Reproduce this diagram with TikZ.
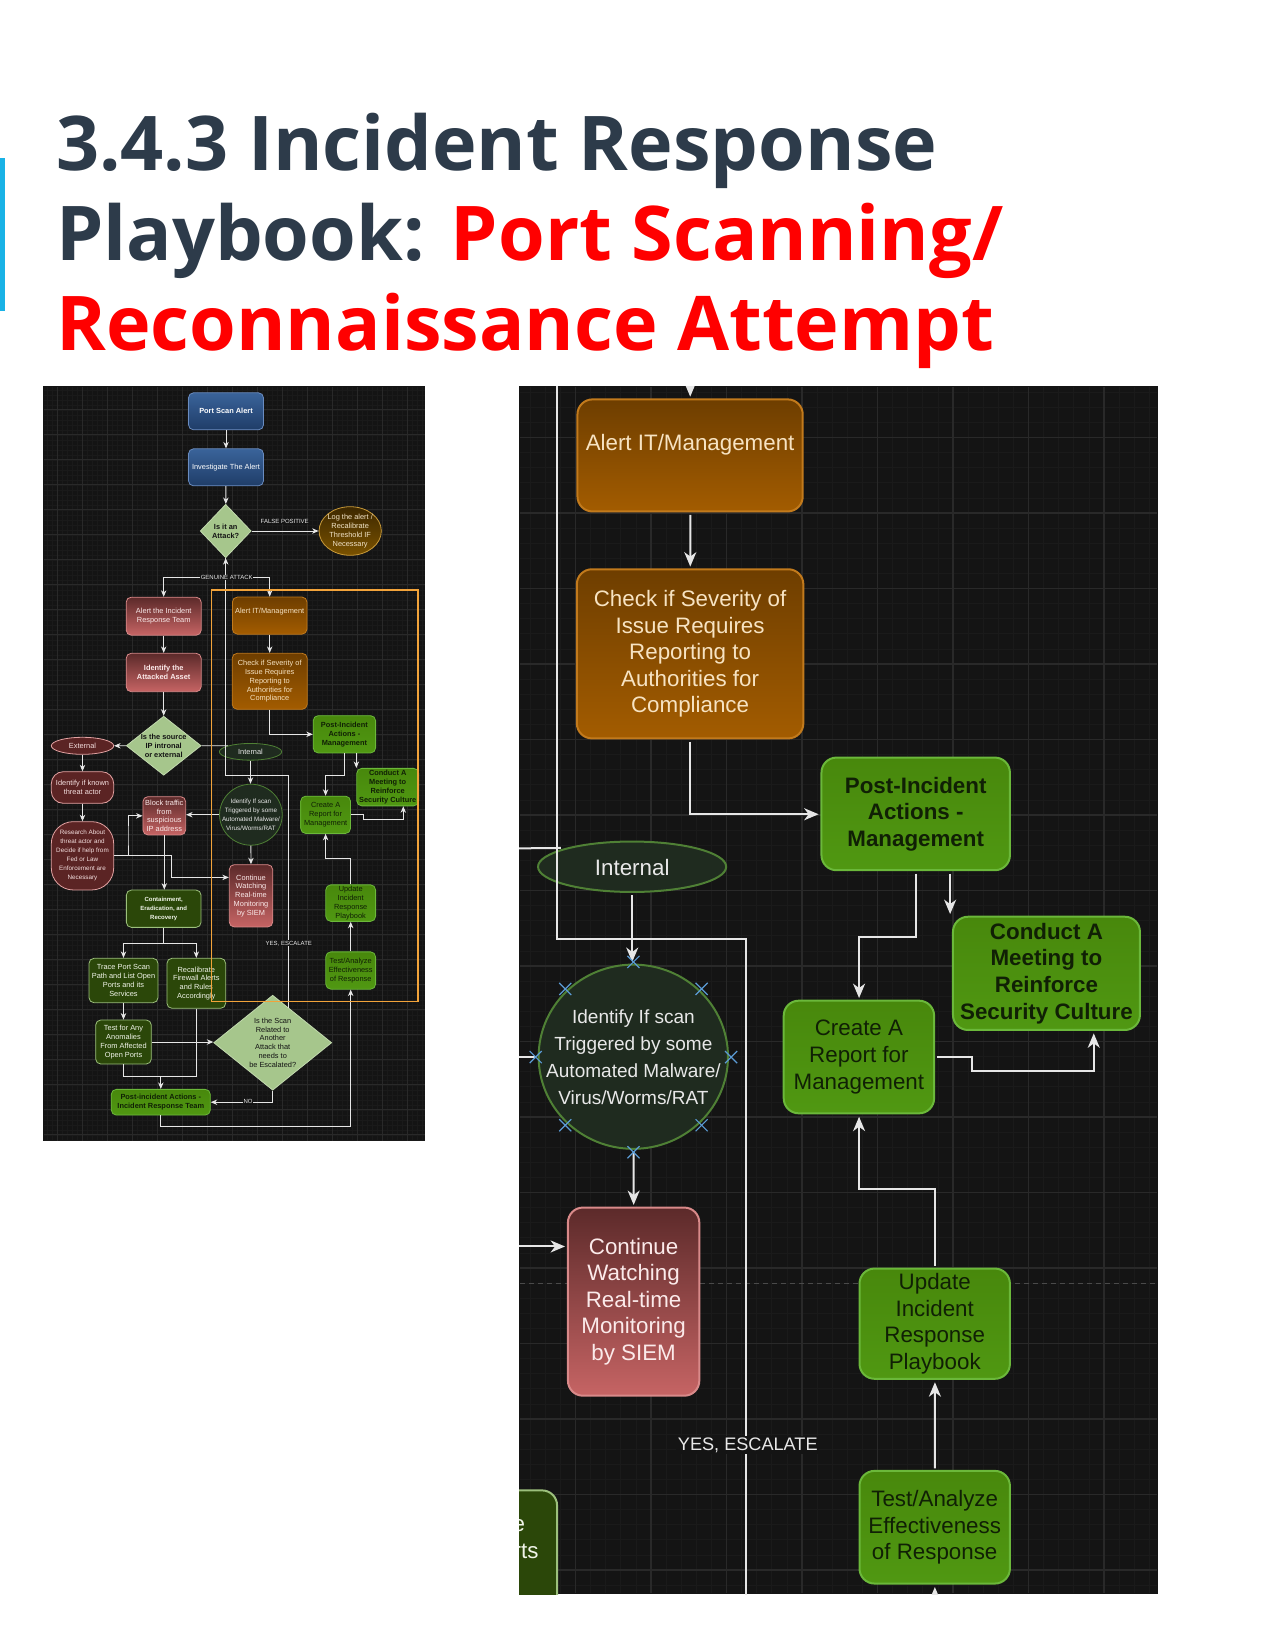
\documentclass[tikz,border=0pt]{standalone}
\usepackage{fontspec}
\setmainfont{Liberation Sans}
\newfontfamily\titlefont{Open Sans}
\usetikzlibrary{shapes.geometric,arrows.meta}

\newcommand\connw{0.9pt}
\newcommand\nodew{0.8pt}
\newcommand\boxrc{5pt}
\newcommand\pillrc{12pt}
\newcommand\eggrc{22pt}
\newcommand\gridw{0.6pt}
\newcommand\gridmw{0.4pt}
\newcommand\boxfont{\fontsize{7.4pt}{8.8pt}\selectfont}
\newcommand\smallboxfont{\fontsize{6.3pt}{9pt}\selectfont}
\newcommand\boldsmallfont{\fontsize{6pt}{9.2pt}\selectfont\bfseries}
% texts of boxes that lie outside the enlarged view
\newif\ifzoomview
\newcommand\leftonly[1]{\ifzoomview\else#1\fi}

\tikzset{
  conn/.style={draw=connc, line width=\connw},
  arr/.style={conn, -{Stealth[length=0pt 7.2, width=0pt 6, inset=0pt 2.2]}},
  wh/.style 2 args={minimum width=#1pt, minimum height=#2pt},
  box/.style={rectangle, rounded corners=\boxrc, line width=\nodew, align=center, inner sep=1pt, font=\boxfont},
  bluebox/.style={box, draw=blueline, top color=bluetop, bottom color=bluebot, text=white, wh={75}{37}},
  redbox/.style={box, draw=redline, top color=redtop, bottom color=redbot, text=redtext},
  orangebox/.style={box, draw=orangeline, top color=orangetop, bottom color=orangebot, text=orangetext},
  greenbox/.style={box, draw=greenline, top color=greentop, bottom color=greenbot, text=greentext},
  darkbox/.style={box, draw=darkline, fill=darkfill, text=darktext},
  maroonbox/.style={box, draw=maroonline, fill=maroon, text=maroontext},
  decision/.style={diamond, draw=decline, line width=\nodew, fill=decfill, text=dectext, align=center, inner sep=0pt, font=\boxfont},
  pill/.style={ellipse, line width=\nodew, inner sep=0pt},
  txt/.style={align=center, inner sep=0pt, font=\boxfont},
  elabel/.style={font=\fontsize{6pt}{7pt}\selectfont, text=labeltext, fill=panelbg, inner sep=0.6pt},
  gridminor/.style={draw=gridminorc, line width=\gridmw},
  gridmajor/.style={draw=gridmajorc, line width=\gridw},
  titletext/.style={font=\titlefont\bfseries\fontsize{75.5pt}{90pt}\selectfont, text=titledark, inner sep=0pt, anchor=base west}
}

% #1,#2 = left/right end, #3,#4 = top/bottom end of the grid lines
\newcommand\gridlines[4]{%
  \foreach \g in {1.8,6.8,...,431.8} \draw[gridminor] (\g,#3) -- (\g,#4);
  \foreach \g in {379.7,384.7,...,1149.7} \draw[gridminor] (#1,\g) -- (#2,\g);
  \foreach \g in {6.8,31.8,...,431.8} \draw[gridmajor] (\g,#3) -- (\g,#4);
  \foreach \g in {384.7,409.7,...,1134.7} \draw[gridmajor] (#1,\g) -- (#2,\g);
}

\newcommand\playbook{%
  \node[bluebox, font=\boxfont\bfseries] (psalert) at (226,411.3) {\leftonly{Port Scan Alert}};
  \node[bluebox] (invest) at (226,467.3) {\leftonly{Investigate The Alert}};
  \node[decision, wh={51}{53.4}, aspect=0.955, font=\boxfont\bfseries] (attack) at (225.7,531) {\leftonly{Is it an\\Attack?}};
  \node[pill, draw=logline, top color=logtop, bottom color=logbot, wh={62.3}{48.6},
    label={[txt, text=logtext]center:{\leftonly{Log the alert /\\Recalibrate\\Threshold IF\\Necessary}}}] (logalert) at (350.2,531) {};
  \node[redbox, wh={75}{38}] (alertirt) at (163.7,616.2) {\leftonly{Alert the Incident\\Response Team}};
  \node[redbox, wh={75}{38.4}, font=\boxfont\bfseries] (asset) at (163.7,672.5) {\leftonly{Identify the\\Attacked Asset}};
  \node[decision, wh={74.7}{59}, aspect=1.266, font=\boxfont\bfseries] (source) at (163.7,745.7) {\leftonly{Is the source\\IP intronal\\or external}};
  \node[pill, draw=maroonline, fill=maroon, wh={62.4}{17},
    label={[txt, text=maroontext]center:{\leftonly{External}}}] (external) at (82.5,745.8) {};
  \node[maroonbox, rounded corners=\pillrc, wh={62.4}{31.6}] (idknown) at (82.5,787.5) {\leftonly{Identify if known\\threat actor}};
  \node[maroonbox, rounded corners=\eggrc, wh={62.4}{68.3}, font=\smallboxfont] (research) at (82.5,855.8)
    {\leftonly{Research About\\threat actor and\\Decide if help from\\Fed or Law\\Enforcement are\\Necessary}};
  \node[redbox, wh={42.7}{38.3}] (block) at (164.3,815.8) {\leftonly{Block traffic\\from\\suspicious\\IP address}};
  \node[darkbox, wh={74.7}{37.3}, font=\boldsmallfont] (contain) at (163.7,908.7) {\leftonly{Containment,\\Eradication, and\\Recovery}};
  \node[darkbox, wh={69}{44.4}] (trace) at (123.5,980.5) {\leftonly{Trace Port Scan\\Path and List Open\\Ports and its\\Services}};
  \node[darkbox, wh={58.7}{50}] (recal) at (196.3,983.3) {Recalibrate\\Firewall Alerts\\and Rules\\Accordingly};
  \node[darkbox, wh={55.6}{44}] (anomal) at (123.5,1042) {\leftonly{Test for Any\\Anomalies\\From Affected\\Open Ports}};
  \node[decision, wh={118}{95}, aspect=1.242] (scanq) at (272.7,1042.7)
    {\leftonly{Is the Scan\\Related to\\Another\\Attack that\\needs to\\be Escalated?}};
  \node[greenbox, wh={99}{25.7}, font=\boxfont\bfseries] (piairt) at (160.8,1102.2) {\leftonly{Post-incident Actions -\\Incident Response Team}};
  \node[orangebox, wh={74.6}{37.1}] (alertit) at (269.7,615.6) {Alert IT/Management\\ \mbox{}};
  \node[orangebox, wh={75}{56}] (severity) at (269.7,681.3)
    {Check if Severity of\\Issue Requires\\Reporting to\\Authorities for\\Compliance};
  \node[greenbox, wh={62.4}{37.3}, font=\boxfont\bfseries] (piamgmt) at (344.4,734.3) {Post-Incident\\Actions -\\Management};
  \node[greenbox, wh={61.9}{37.5}, font=\boxfont\bfseries] (meeting) at (387.7,787.1) {Conduct A\\Meeting to\\Reinforce\\Security Culture};
  \node[greenbox, wh={49.8}{37.3}] (report) at (325.6,814.8) {Create A\\Report for\\Management};
  \node[greenbox, wh={49.8}{36.5}] (update) at (350.7,903.1) {Update\\Incident\\Response\\Playbook};
  \node[greenbox, wh={49.8}{37.3}] (testeff) at (350.7,970.5) {Test/Analyze\\Effectiveness\\of Response};
  \node[pill, draw=mossline, fill=moss, wh={62.3}{16.7},
    label={[txt, text=mosstext]center:Internal}] (internal) at (250.5,751.8) {};
  \node[pill, draw=mossline, fill=moss, wh={62.7}{61},
    label={[txt, text=mosstext, font=\smallboxfont]center:{Identify If scan\\Triggered by some\\Automated Malware/\\Virus/Worms/RAT}}] (identscan) at (250.9,814.7) {};
  \node[redbox, wh={43.5}{62.3}] (continue) at (251,895.8) {Continue\\Watching\\Real-time\\Monitoring\\by SIEM};
  \coordinate (split) at (225.7,577.7);
  \coordinate (rb) at (128,836);
  \coordinate (rc) at (171.3,866);
  \coordinate (cin) at (229,877.4);
  \coordinate (split2) at (163.7,943.3);
  \coordinate (merge) at (160.8,1076.7);
  \coordinate (esc0) at (288,1007.5);
  \coordinate (esc1) at (288,775.5);
  \coordinate (esc2) at (225.7,775.5);
  \coordinate (pr) at (325.6,775);
  \coordinate (rm1) at (363,819.3);
  \coordinate (rm2) at (403.3,819.3);
  \coordinate (ur) at (325.6,858.3);
  \coordinate (pt) at (255,1126);
  \draw[arr] (psalert) -- (invest);
  \draw[arr] (invest) -- (attack);
  \draw[arr] (attack) -- (logalert);
  \draw[conn] (attack.south) -- (split);
  \draw[arr] (split) -| (alertirt.north);
  \draw[arr] (split) -| (alertit.north);
  \draw[arr] (alertirt) -- (asset);
  \draw[arr] (asset) -- (source);
  \draw[arr] (source) -- (external);
  \draw[conn] (source.east) -- (internal.165);
  \draw[arr] (external) -- (idknown);
  \draw[arr] (idknown) -- (research);
  \draw[arr] (research.east) -| (rb) |- (block.west);
  \draw[arr] (research.east) -| (rc) |- (cin -| continue.west);
  \draw[arr] (identscan.west) -- (identscan.west -| block.east);
  \draw[arr] (block.south) -- (block.south |- contain.north);
  \draw[conn] (contain.south) -- (split2);
  \draw[arr] (split2) -| (trace.north);
  \draw[arr] (split2) -| (recal.north);
  \draw[arr] (trace) -- (anomal);
  \draw[arr] (anomal.east) -- (anomal.east -| scanq.west);
  \draw[conn] (anomal.south) |- (merge);
  \draw[conn] (recal.south) |- (merge);
  \draw[arr] (merge) -- (piairt.north);
  \draw[arr] (scanq.south) |- (piairt.east);
  \draw[arr] (esc0) -- (esc1) -- (esc2) -- (attack.south);
  \draw[arr] (internal.south) -- (internal.south |- identscan.north);
  \draw[arr] (identscan) -- (continue);
  \draw[arr] (alertit) -- (severity);
  \draw[arr] (severity.south) |- (piamgmt.west);
  \draw[arr] (piamgmt.south) |- (pr) -- (report.north);
  \draw[arr] (piamgmt.south -| meeting.north west) -- (meeting.north west);
  \draw[arr] (report.east) -| (rm1) -- (rm2) -- (rm2 |- meeting.south);
  \draw[arr] (update.north) |- (ur) -- (report.south);
  \draw[arr] (testeff) -- (update);
  \draw[arr] (piairt.south) |- (pt) -| (testeff.south);
  \ifzoomview\else
    \node[elabel] (fplbl) at (284.7,521.7) {FALSE POSITIVE};
    \node[elabel] (galbl) at (226.7,577.7) {GENUINE ATTACK};
    \node[elabel] (nolbl) at (248,1101.9) {NO};
  \fi
  \node[elabel] (yeslbl) at (288.8,943.3) {YES, ESCALATE};
}

\begin{document}
\begin{tikzpicture}[x=1pt,y=-1pt]
  \definecolor{titledark}{HTML}{2D3B4A}
  \definecolor{titlered}{HTML}{FF0000}
  \definecolor{barblue}{HTML}{19B2E6}
  \definecolor{panelbg}{HTML}{141414}
  \definecolor{gridminorc}{HTML}{1A1A1A}
  \definecolor{gridmajorc}{HTML}{292929}
  \definecolor{connc}{HTML}{E6E6E6}
  \definecolor{labeltext}{HTML}{E8E8E8}
  \definecolor{blueline}{HTML}{6A8CC0}
  \definecolor{bluetop}{HTML}{3A639A}
  \definecolor{bluebot}{HTML}{1F3D68}
  \definecolor{decline}{HTML}{C2DAAE}
  \definecolor{decfill}{HTML}{A6C68C}
  \definecolor{dectext}{HTML}{141414}
  \definecolor{logline}{HTML}{C89A3A}
  \definecolor{logtop}{HTML}{3D2800}
  \definecolor{logbot}{HTML}{7A5200}
  \definecolor{logtext}{HTML}{F2E4C8}
  \definecolor{redline}{HTML}{D98A8A}
  \definecolor{redtop}{HTML}{5C2A2A}
  \definecolor{redbot}{HTML}{C66464}
  \definecolor{redtext}{HTML}{FBEAEA}
  \definecolor{maroon}{HTML}{5B2424}
  \definecolor{maroonline}{HTML}{E3A3A3}
  \definecolor{maroontext}{HTML}{F3DEDE}
  \definecolor{orangeline}{HTML}{C27A1C}
  \definecolor{orangetop}{HTML}{6E3E00}
  \definecolor{orangebot}{HTML}{A35C00}
  \definecolor{orangetext}{HTML}{F7E3C2}
  \definecolor{greenline}{HTML}{6BB83A}
  \definecolor{greentop}{HTML}{48880C}
  \definecolor{greenbot}{HTML}{509812}
  \definecolor{greentext}{HTML}{102005}
  \definecolor{darkline}{HTML}{9CC07C}
  \definecolor{darkfill}{HTML}{2B4709}
  \definecolor{darktext}{HTML}{F0F4E8}
  \definecolor{moss}{HTML}{1F2B1F}
  \definecolor{mossline}{HTML}{4F8035}
  \definecolor{mosstext}{HTML}{E8E8E8}
  \definecolor{frameorange}{HTML}{F2A33A}
  \definecolor{selblue}{HTML}{5B9BD5}
  \definecolor{guidegray}{HTML}{4A4A4A}

  \useasboundingbox (0,0) rectangle (1275,1650);
  \fill[white] (0,0) rectangle (1275,1650);

  \fill[barblue] (0,158) rectangle (5,311);
  \node[titletext] (title1) at (56,170.7) {3.4.3 Incident Response};
  \node[titletext] (title2) at (56,260) {Playbook: \textcolor{titlered}{Port Scanning/}};
  \node[titletext, text=titlered] (title3) at (56,350) {Reconnaissance Attempt};

  \begin{scope}
    \clip (43,386) rectangle (425,1141);
    \fill[panelbg] (43,386) rectangle (425,1141);
    \begin{scope}[name prefix=L-]
      \gridlines{43.5}{424.5}{386.5}{1140.5}
      \playbook
      \draw[frameorange, line width=1.1pt] (211.3,590) rectangle (418,1001.7);
    \end{scope}
  \end{scope}

  \begin{scope}
    \clip (519,386) rectangle (1158,1594);
    \fill[panelbg] (519,386) rectangle (1158,1594);
    \begin{scope}[shift={(-124.4,-1403.7)}, scale=3.02, transform shape, name prefix=R-]
      \zoomviewtrue
      \renewcommand\connw{2pt}
      \renewcommand\nodew{2pt}
      \renewcommand\boxrc{15pt}
      \renewcommand\pillrc{36pt}
      \renewcommand\eggrc{66pt}
      \renewcommand\gridw{1.6pt}
      \renewcommand\gridmw{1pt}
      \gridlines{213.3}{424.4}{592.8}{992.4}
      \draw[guidegray, line width=1pt, dash pattern=on 5pt off 4pt] (213.3,889.8) -- (424.4,889.8);
      \playbook
      \foreach \a in {north,south,east,west,45,135,225,315}
        \draw[selblue, line width=1.2pt] (identscan.\a) +(-2,-2) -- +(2,2) +(-2,2) -- +(2,-2);
    \end{scope}
  \end{scope}
\end{tikzpicture}
\end{document}
